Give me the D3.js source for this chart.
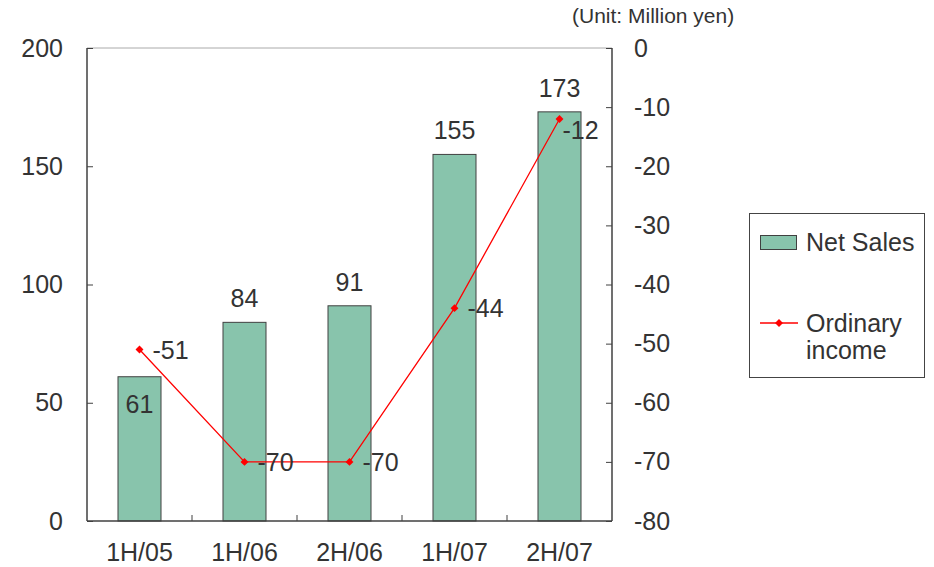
<!DOCTYPE html>
<html>
<head>
<meta charset="utf-8">
<script src="https://cdn.jsdelivr.net/npm/d3@7/dist/d3.min.js"></script>
<style>
  body { margin: 0; background: #fff; }
  svg { display: block; }
  text { font-family: "Liberation Sans", Arial, sans-serif; fill: #333; }
</style>
</head>
<body>
<svg id="chart" width="934" height="567"></svg>
<script>
const categories = ["1H/05", "1H/06", "2H/06", "1H/07", "2H/07"];
const netSales = [61, 84, 91, 155, 173];
const ordinaryIncome = [-51, -70, -70, -44, -12];
const leftTicks = [0, 50, 100, 150, 200];
const rightTicks = [0, -10, -20, -30, -40, -50, -60, -70, -80];

const svg = d3.select("#chart");
const m = { left: 87, right: 612, top: 48, bottom: 521 };
const FS = 25;

const x = d3.scaleBand().domain(categories).range([m.left, m.right]).paddingInner(0).paddingOuter(0);
const yL = d3.scaleLinear().domain([0, 200]).range([m.bottom, m.top]);
const yR = d3.scaleLinear().domain([-80, 0]).range([m.bottom, m.top]);
const cx = i => x(categories[i]) + x.bandwidth() / 2;

const barW = 43;
const axisColor = "#404040";

// top border of the plot area
svg.append("line").attr("x1", m.left).attr("x2", m.right).attr("y1", m.top).attr("y2", m.top)
  .attr("stroke", "#aaa").attr("stroke-width", 1);

// net sales bars
svg.selectAll("rect.bar").data(netSales).enter().append("rect")
  .attr("class", "bar")
  .attr("x", (d, i) => cx(i) - barW / 2)
  .attr("y", d => yL(d))
  .attr("width", barW)
  .attr("height", d => yL(0) - yL(d))
  .attr("fill", "#88c4ac")
  .attr("stroke", "#404040")
  .attr("stroke-width", 1);

// left axis (net sales)
const leftAxis = d3.axisLeft(yL).tickValues(leftTicks).tickSize(-6).tickPadding(24).tickFormat(d => String(d));
const gl = svg.append("g").attr("transform", `translate(${m.left},0)`).call(leftAxis);
// right axis (ordinary income)
const rightAxis = d3.axisRight(yR).tickValues(rightTicks).tickSize(-6).tickPadding(22).tickFormat(d => String(d));
const gr = svg.append("g").attr("transform", `translate(${m.right},0)`).call(rightAxis);

// category axis with ticks between categories
const xTickPos = d3.range(1, categories.length).map(i => m.left + i * x.bandwidth());
const gb = svg.append("g");
gb.append("line").attr("x1", m.left).attr("x2", m.right).attr("y1", m.bottom).attr("y2", m.bottom)
  .attr("stroke", axisColor).attr("stroke-width", 1.5);
gb.selectAll("line.tk").data(xTickPos).enter().append("line").attr("class", "tk")
  .attr("x1", d => d).attr("x2", d => d).attr("y1", m.bottom).attr("y2", m.bottom - 6)
  .attr("stroke", axisColor);
gb.selectAll("text").data(categories).enter().append("text")
  .attr("x", d => x(d) + x.bandwidth() / 2)
  .attr("y", 561)
  .attr("text-anchor", "middle")
  .attr("font-size", FS)
  .text(d => d);

[gl, gr].forEach(g => {
  g.select(".domain").attr("stroke", axisColor).attr("stroke-width", 1.5)
    .attr("d", `M0,${m.top}V${m.bottom}`);
  g.selectAll(".tick line").attr("stroke", axisColor);
  g.selectAll(".tick text").attr("font-size", FS).attr("fill", "#333")
    .style("font-family", '"Liberation Sans", Arial, sans-serif');
});

// bar value labels (first one sits inside its bar)
svg.selectAll("text.barlab").data(netSales).enter().append("text")
  .attr("class", "barlab")
  .attr("x", (d, i) => cx(i))
  .attr("y", (d, i) => i === 0 ? yL(d) + 36 : yL(d) - 15)
  .attr("text-anchor", "middle")
  .attr("font-size", FS)
  .text(d => d);

// ordinary income line with diamond markers
const line = d3.line().x((d, i) => cx(i)).y(d => yR(d));
svg.append("path").datum(ordinaryIncome)
  .attr("d", line).attr("fill", "none").attr("stroke", "#ff0000").attr("stroke-width", 1.3);
svg.selectAll("path.mk").data(ordinaryIncome).enter().append("path")
  .attr("class", "mk")
  .attr("d", d3.symbol().type(d3.symbolDiamond2).size(40))
  .attr("transform", (d, i) => `translate(${cx(i)},${yR(d)})`)
  .attr("fill", "#ff0000");
svg.selectAll("text.linelab").data(ordinaryIncome).enter().append("text")
  .attr("class", "linelab")
  .attr("x", (d, i) => cx(i) + (i === 4 ? 3 : 13))
  .attr("y", (d, i) => yR(d) + (i === 4 ? 20 : 9))
  .attr("font-size", FS)
  .text(d => String(d));

// unit note
svg.append("text").attr("x", 572).attr("y", 23).attr("font-size", 21).text("(Unit: Million yen)");

// legend
const lg = svg.append("g");
lg.append("rect").attr("x", 749.5).attr("y", 213.5).attr("width", 175).attr("height", 164)
  .attr("fill", "#fff").attr("stroke", "#444").attr("stroke-width", 1);
lg.append("rect").attr("x", 760.5).attr("y", 235.5).attr("width", 36).attr("height", 14)
  .attr("fill", "#88c4ac").attr("stroke", "#404040");
lg.append("text").attr("x", 806).attr("y", 251).attr("font-size", FS).text("Net Sales");
lg.append("line").attr("x1", 760).attr("x2", 798).attr("y1", 323).attr("y2", 323)
  .attr("stroke", "#ff0000").attr("stroke-width", 1.3);
lg.append("path").attr("d", d3.symbol().type(d3.symbolDiamond2).size(40))
  .attr("transform", "translate(779,323)").attr("fill", "#ff0000");
lg.append("text").attr("x", 806).attr("y", 332).attr("font-size", FS).text("Ordinary");
lg.append("text").attr("x", 806).attr("y", 359).attr("font-size", FS).text("income");
</script>
</body>
</html>
